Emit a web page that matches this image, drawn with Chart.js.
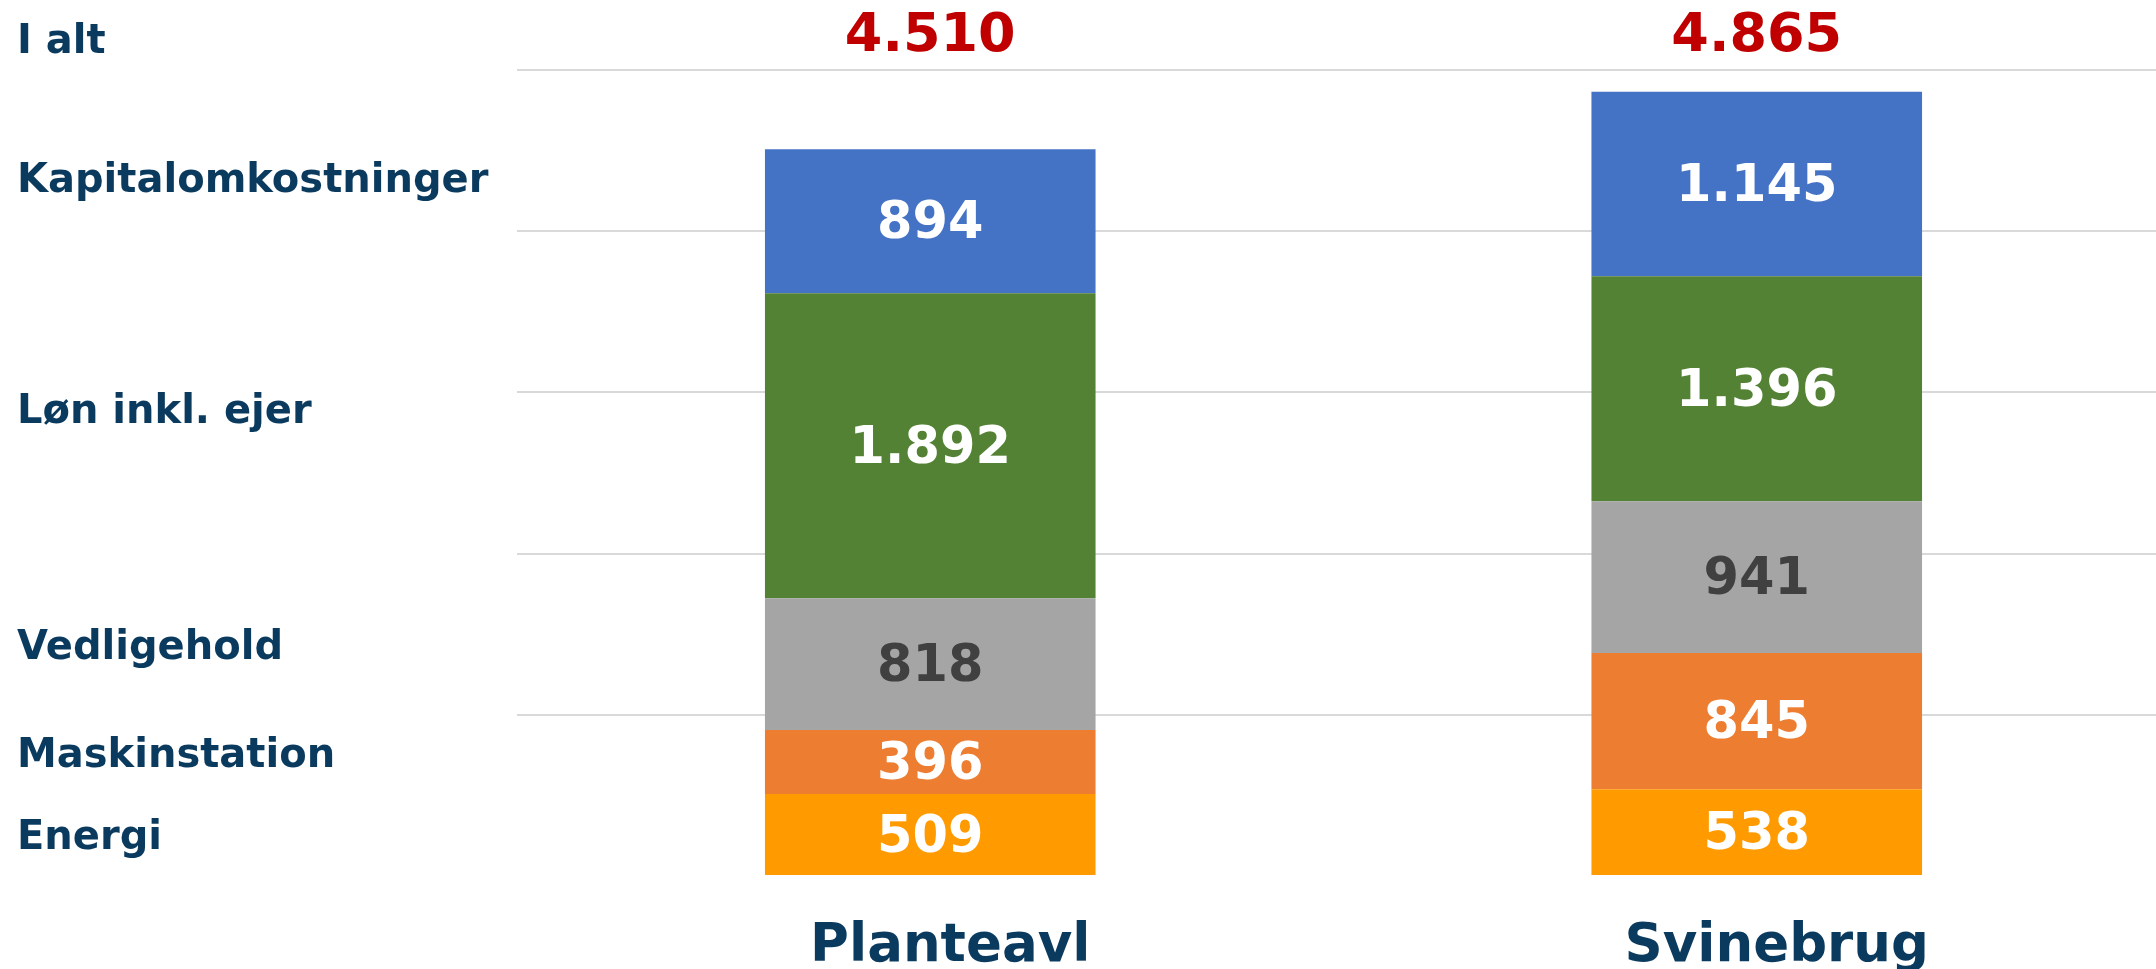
<!DOCTYPE html>
<html>
<head>
<meta charset="utf-8">
<script src="https://cdn.jsdelivr.net/npm/chart.js@4"></script>
<style>
  html, body { margin: 0; padding: 0; background: #fff; overflow: hidden; }
  canvas { display: block; }
</style>
</head>
<body>
<canvas id="costChart" width="2170" height="969"></canvas>
<script>
// Data
const categories = ['Planteavl', 'Svinebrug'];
const energi = [509, 538];
const maskinstation = [396, 845];
const vedligehold = [818, 941];
const loen = [1892, 1396];
const kapital = [894, 1145];
const totals = [4510, 4865];

// Side labels (left column) and where they sit on the value axis
const sideLabels = ['I alt', 'Kapitalomkostninger', 'Løn inkl. ejer', 'Vedligehold', 'Maskinstation', 'Energi'];
const sideTickValues = [5170, 4310, 2875, 1410, 740, 235];

const navy = '#0B3A5F';
const fontFamily = '"DejaVu Sans", Verdana, sans-serif';

// danish thousands separator
const fmt = v => String(v).replace(/\B(?=(\d{3})+(?!\d))/g, '.');

// Value labels inside the bar segments + totals above
const valueLabels = {
  id: 'valueLabels',
  afterDatasetsDraw(chart) {
    const ctx = chart.ctx;
    ctx.save();
    ctx.textAlign = 'center';
    ctx.textBaseline = 'middle';
    ctx.font = 'bold 51px ' + fontFamily;
    chart.data.datasets.forEach((ds, i) => {
      const meta = chart.getDatasetMeta(i);
      meta.data.forEach((bar, j) => {
        ctx.fillStyle = ds.labelColor;
        ctx.fillText(fmt(ds.data[j]), bar.x, (bar.y + bar.base) / 2 + 4);
      });
    });

    // totals
    const first = chart.getDatasetMeta(0);
    ctx.font = 'bold 54px ' + fontFamily;
    ctx.fillStyle = '#C00000';
    totals.forEach((t, j) => {
      ctx.fillText(fmt(t), first.data[j].x, chart.chartArea.top - 33);
    });
    ctx.restore();
  }
};

const ctx = document.getElementById('costChart').getContext('2d');

const costChart = new Chart(ctx, {
  type: 'bar',
  data: {
    labels: categories,
    datasets: [
      { label: 'Energi', data: energi, backgroundColor: '#FF9A00', labelColor: '#FFFFFF', yAxisID: 'y' },
      { label: 'Maskinstation', data: maskinstation, backgroundColor: '#ED7D31', labelColor: '#FFFFFF', yAxisID: 'y' },
      { label: 'Vedligehold', data: vedligehold, backgroundColor: '#A5A5A5', labelColor: '#404040', yAxisID: 'y' },
      { label: 'Løn inkl. ejer', data: loen, backgroundColor: '#548235', labelColor: '#FFFFFF', yAxisID: 'y' },
      { label: 'Kapitalomkostninger', data: kapital, backgroundColor: '#4472C4', labelColor: '#FFFFFF', yAxisID: 'y' }
    ]
  },
  options: {
    responsive: false,
    animation: false,
    layout: { padding: { left: 17, top: 70, right: 0, bottom: 0 } },
    datasets: {
      bar: { barPercentage: 0.4, categoryPercentage: 1, borderWidth: 0 }
    },
    plugins: {
      legend: { display: false },
      tooltip: { enabled: false }
    },
    scales: {
      x: {
        stacked: true,
        grid: { display: false },
        border: { display: false },
        ticks: {
          color: navy,
          font: { family: fontFamily, size: 53, weight: 'bold', lineHeight: 1.2 },
          padding: 31,
          labelOffset: 20,
          maxRotation: 0
        },
        afterFit: scale => { scale.height = 93; }
      },
      yLabels: {
        position: 'left',
        min: 0,
        max: 5000,
        grid: { display: false },
        border: { display: false },
        afterBuildTicks: scale => {
          scale.ticks = sideTickValues.map(v => ({ value: v }));
        },
        ticks: {
          autoSkip: false,
          crossAlign: 'far',
          color: navy,
          font: { family: fontFamily, size: 40, weight: 'bold' },
          callback: (value, index) => sideLabels[index]
        },
        afterFit: scale => { scale.width = 500; }
      },
      y: {
        stacked: true,
        position: 'left',
        min: 0,
        max: 5000,
        border: { display: false },
        grid: {
          drawTicks: false,
          lineWidth: 2,
          color: c => (c.tick && c.tick.value === 0) ? 'rgba(0,0,0,0)' : '#D9D9D9'
        },
        ticks: { display: false, stepSize: 1000 },
        afterFit: scale => { scale.width = 0; }
      }
    }
  },
  plugins: [valueLabels]
});
</script>
</body>
</html>
